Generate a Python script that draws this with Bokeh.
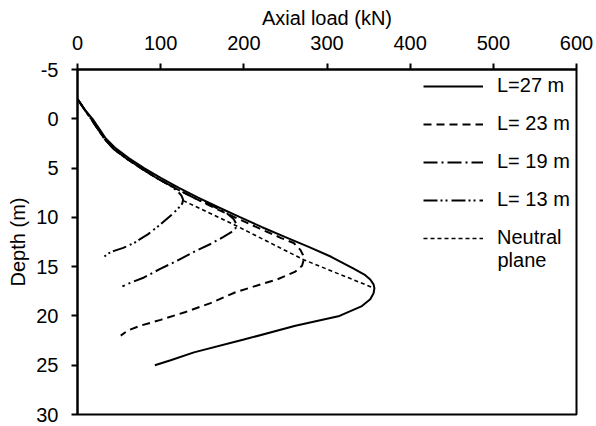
from bokeh.plotting import figure
from bokeh.models import Range1d, Legend, LegendItem, Label, FixedTicker
from bokeh.embed import file_html
from bokeh.resources import INLINE

# ---- data (axial load kN, depth m) ----
load27 = [0, 8, 18, 26, 34, 46, 62, 80, 100, 122, 145, 170, 196, 222, 250, 278, 305, 332, 345, 352, 356, 357, 356, 352, 342, 315, 262, 200, 140, 112, 93]
depth27 = [-2, -1, 0, 1, 2, 3, 4, 5, 6, 7, 8, 9, 10, 11, 12, 13, 14, 15.2, 15.8, 16.3, 16.8, 17.2, 17.7, 18.3, 19, 20, 21, 22.4, 23.7, 24.5, 25]

load23 = [0, 8, 17, 25, 33, 44, 60, 78, 97, 119, 142, 166, 192, 218, 245, 260, 268, 271, 272, 270, 262, 240, 220, 190, 160, 130, 100, 75, 60, 52]
depth23 = [-2, -1, 0.1, 1.1, 2.1, 3.1, 4.1, 5.1, 6.1, 7.1, 8.1, 9.1, 10.1, 11.1, 12.1, 12.6, 13.3, 13.8, 14.3, 14.9, 15.5, 16.3, 16.8, 17.6, 18.7, 19.6, 20.4, 21.0, 21.5, 22]

load19 = [0, 8, 17, 25, 33, 44, 60, 78, 97, 119, 142, 164, 180, 188, 191, 190, 185, 175, 160, 140, 120, 100, 80, 62, 54]
depth19 = [-2, -1, 0.1, 1.1, 2.1, 3.1, 4.1, 5.1, 6.1, 7.1, 8.1, 8.9, 9.6, 10.2, 10.7, 11.1, 11.5, 12.0, 12.7, 13.5, 14.4, 15.2, 16.1, 16.7, 17]

load13 = [0, 8, 17, 25, 33, 44, 60, 78, 97, 112, 121, 125, 127, 126, 122, 115, 100, 85, 68, 55, 44, 36, 32]
depth13 = [-2, -1, 0.1, 1.1, 2.1, 3.1, 4.1, 5.1, 6.1, 6.8, 7.4, 7.8, 8.2, 8.6, 9.0, 9.6, 10.7, 11.7, 12.6, 13.1, 13.4, 13.7, 14]

load_np = [127, 192, 272, 357]
depth_np = [8.3, 10.9, 14.3, 17.2]

x_ticks = [0, 100, 200, 300, 400, 500, 600]
y_ticks = [-5, 0, 5, 10, 15, 20, 25, 30]

FONT = "Liberation Sans"
FS = "20px"

p = figure(width=596, height=426, output_backend="svg", toolbar_location=None,
           x_range=Range1d(0, 600), y_range=Range1d(30, -5),
           x_axis_location="above", title=None,
           min_border_left=77, min_border_right=20, min_border_top=69, min_border_bottom=12)
p.background_fill_color = "white"
p.border_fill_color = "white"
p.outline_line_color = "black"
p.outline_line_width = 2
p.xgrid.visible = False
p.ygrid.visible = False

for ax in (p.xaxis[0], p.yaxis[0]):
    ax.axis_line_width = 2
    ax.axis_line_color = "black"
    ax.major_tick_line_width = 2
    ax.major_tick_out = 6
    ax.major_tick_in = 0
    ax.minor_tick_line_color = None
    ax.major_label_text_font = FONT
    ax.major_label_text_font_size = FS
    ax.major_label_text_color = "black"
    ax.axis_label_text_font = FONT
    ax.axis_label_text_font_size = FS
    ax.axis_label_text_font_style = "normal"
    ax.axis_label_text_color = "black"

p.xaxis[0].ticker = FixedTicker(ticks=x_ticks)
p.yaxis[0].ticker = FixedTicker(ticks=y_ticks)
p.yaxis[0].major_label_overrides = {t: str(t) for t in y_ticks}
p.xaxis[0].axis_label = "Axial load (kN)"
p.yaxis[0].axis_label = "Depth (m)"
p.xaxis[0].major_label_standoff = 14
p.xaxis[0].axis_label_standoff = 4
p.yaxis[0].major_label_standoff = 13
p.yaxis[0].axis_label_standoff = 4

r27 = p.line(load27, depth27, line_color="black", line_width=2)
r23 = p.line(load23, depth23, line_color="black", line_width=2, line_dash="8 5")
r19 = p.line(load19, depth19, line_color="black", line_width=2, line_dash="14 4 2 4")
r13 = p.line(load13, depth13, line_color="black", line_width=2, line_dash="14 3 2 3 2 4")
rnp = p.line(load_np, depth_np, line_color="black", line_width=1.6, line_dash="4 3")

legend = Legend(items=[
    LegendItem(label="L=27 m", renderers=[r27]),
    LegendItem(label="L= 23 m", renderers=[r23]),
    LegendItem(label="L= 19 m", renderers=[r19]),
    LegendItem(label="L= 13 m", renderers=[r13]),
    LegendItem(label="Neutral", renderers=[rnp]),
], location=(346, 165), padding=0, margin=0, spacing=15,
   glyph_width=60, glyph_height=20, label_standoff=14,
   label_text_font=FONT, label_text_font_size=FS, label_text_color="black",
   border_line_color=None, background_fill_alpha=0)
p.add_layout(legend, "center")

p.add_layout(Label(x=420, y=155, x_units="screen", y_units="screen", text="plane",
                   text_font=FONT, text_font_size=FS, text_color="black",
                   text_baseline="middle", text_align="left"))

open("out.html", "w").write(file_html(p, INLINE))
